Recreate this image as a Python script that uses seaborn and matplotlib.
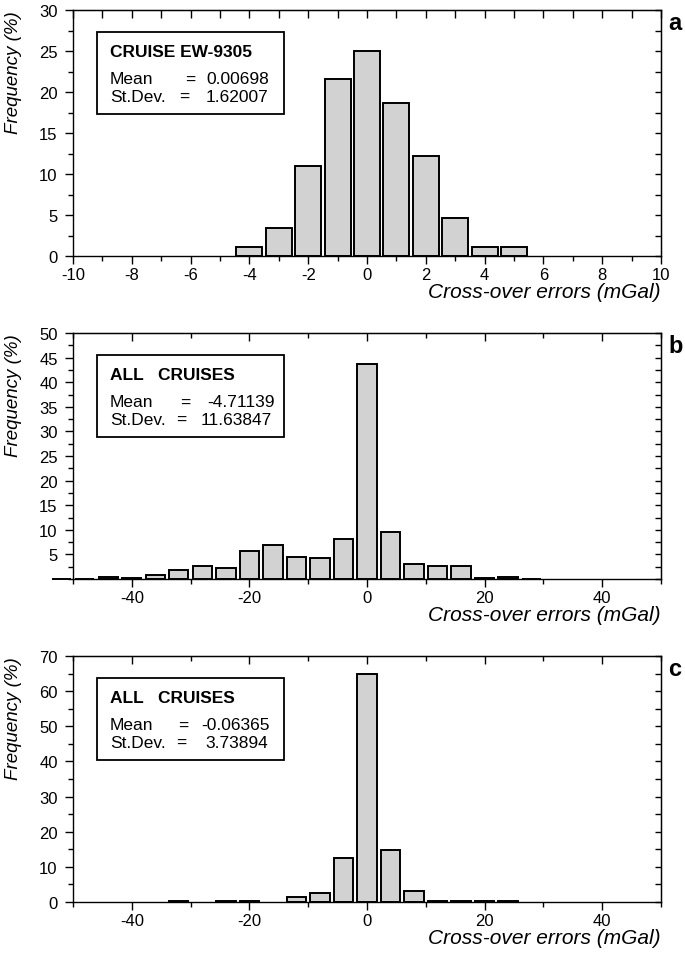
import matplotlib
matplotlib.use("Agg")
import matplotlib.pyplot as plt
import seaborn as sns
from matplotlib.patches import Rectangle
from matplotlib.ticker import MultipleLocator, FixedLocator, NullFormatter

# (a) cruise EW-9305, 1 mGal bins
a_centers = [-4, -3, -2, -1, 0, 1, 2, 3, 4, 5]
a_freq = [1.15, 3.4, 11.0, 21.6, 25.0, 18.6, 12.2, 4.6, 1.15, 1.15]

# (b) all cruises, raw cross-overs, 4 mGal bins
b_centers = [-52, -48, -44, -40, -36, -32, -28, -24, -20, -16, -12, -8, -4,
             0, 4, 8, 12, 16, 20, 24, 28]
b_freq = [0.1, 0.1, 0.45, 0.15, 0.75, 1.75, 2.6, 2.25, 5.7, 6.9, 4.4, 4.25, 8.2,
          43.8, 9.65, 3.1, 2.6, 2.55, 0.15, 0.35, 0.07]

# (c) all cruises, adjusted
c_centers = [-32, -24, -20, -12, -8, -4, 0, 4, 8, 12, 16, 20, 24]
c_freq = [0.2, 0.2, 0.2, 1.4, 2.6, 12.4, 64.8, 14.8, 3.0, 0.2, 0.2, 0.2, 0.2]

titles = ["CRUISE EW-9305", "ALL   CRUISES", "ALL   CRUISES"]
means = ["0.00698", "-4.71139", "-0.06365"]
stdevs = ["1.62007", "11.63847", "3.73894"]
letters = ["a", "b", "c"]

panels = [
    dict(centers=a_centers, freq=a_freq, width=0.88, xlim=(-10, 10), ylim=(0, 30),
         xmajor=2, xminor=1, topmajor=1, topminor=1, ymajor=list(range(0, 31, 5)), yminor=2.5,
         eq=(0.2, 0.19), vx=(0.333, 0.333)),
    dict(centers=b_centers, freq=b_freq, width=0.82, xlim=(-50, 50), ylim=(0, 50),
         xmajor=20, xminor=10, topmajor=20, topminor=10, ymajor=list(range(5, 51, 5)), yminor=2.5,
         eq=(0.191, 0.184), vx=(0.343, 0.338)),
    dict(centers=c_centers, freq=c_freq, width=0.82, xlim=(-50, 50), ylim=(0, 70),
         xmajor=20, xminor=10, topmajor=20, topminor=10, ymajor=list(range(0, 71, 10)), yminor=5,
         eq=(0.187, 0.184), vx=(0.335, 0.332)),
]

sns.set_style("ticks")
plt.rcParams["font.family"] = ["Liberation Sans", "DejaVu Sans"]
plt.rcParams["axes.unicode_minus"] = False
for k in ["text.color", "axes.labelcolor", "xtick.color", "ytick.color", "axes.edgecolor"]:
    plt.rcParams[k] = "black"

fig = plt.figure(figsize=(6.85, 9.54), dpi=100)
tops = [11, 334, 657]
left, right, height = 73, 661, 246
fs = 12.5

for i, (p, top) in enumerate(zip(panels, tops)):
    ax = fig.add_axes([left / 685, 1 - (top + height) / 954, (right - left) / 685, height / 954])
    sns.barplot(x=p["centers"], y=p["freq"], native_scale=True, width=p["width"],
                color="#d2d2d2", saturation=1, edgecolor="black", linewidth=1.4,
                errorbar=None, clip_on=False, ax=ax)
    ax.set_xlim(*p["xlim"])
    ax.set_ylim(*p["ylim"])

    for s in ax.spines.values():
        s.set_linewidth(1.0)

    ax.xaxis.set_major_locator(MultipleLocator(p["xmajor"]))
    ax.xaxis.set_minor_locator(MultipleLocator(p["xminor"]))
    ax.yaxis.set_major_locator(FixedLocator(p["ymajor"]))
    ax.yaxis.set_minor_locator(MultipleLocator(p["yminor"]))
    ax.tick_params(which="major", direction="out", length=6, width=1, labelsize=12)
    ax.tick_params(axis="y", which="major", pad=5)
    ax.tick_params(axis="x", which="major", pad=2)
    ax.tick_params(which="minor", direction="out", length=3.5, width=1)
    ax.tick_params(top=False, right=False)

    # inward ticks on the top and right frame
    sx = ax.secondary_xaxis("top")
    sx.xaxis.set_major_locator(MultipleLocator(p["topmajor"]))
    sx.xaxis.set_minor_locator(MultipleLocator(p["topminor"]))
    sx.xaxis.set_major_formatter(NullFormatter())
    sx.tick_params(which="major", direction="in", length=5.5, width=1)
    sx.tick_params(which="minor", direction="in", length=3.5, width=1)
    sy = ax.secondary_yaxis("right")
    sy.yaxis.set_major_locator(MultipleLocator(p["yminor"]))
    sy.yaxis.set_major_formatter(NullFormatter())
    sy.tick_params(which="major", direction="in", length=4.5, width=1)
    sy.tick_params(which="minor", length=0)

    ax.set_xlabel("Cross-over errors (mGal)", loc="right", fontstyle="italic",
                  fontsize=15, labelpad=0)
    ax.set_ylabel("Frequency (%)", loc="top", fontstyle="italic", fontsize=13.5,
                  labelpad=12)

    # statistics box
    ax.add_patch(Rectangle((0.041, 0.577), 0.318, 0.332, transform=ax.transAxes,
                           fill=False, edgecolor="black", linewidth=1.3, zorder=5))
    tr = ax.transAxes
    ax.text(0.063, 0.83, titles[i], transform=tr, fontsize=fs,
            fontweight="bold", va="center", ha="left")
    ax.text(0.063, 0.72, "Mean", transform=tr, fontsize=fs, va="center", ha="left")
    ax.text(0.063, 0.65, "St.Dev.", transform=tr, fontsize=fs, va="center", ha="left")
    ax.text(p["eq"][0], 0.72, "=", transform=tr, fontsize=fs, va="center", ha="center")
    ax.text(p["eq"][1], 0.65, "=", transform=tr, fontsize=fs, va="center", ha="center")
    ax.text(p["vx"][0], 0.72, means[i], transform=tr, fontsize=fs, va="center", ha="right")
    ax.text(p["vx"][1], 0.65, stdevs[i], transform=tr, fontsize=fs, va="center", ha="right")

    ax.text(1.012, 0.95, letters[i], transform=tr, fontsize=17,
            fontweight="bold", va="center", ha="left")

fig.savefig("out.png", dpi=100)
